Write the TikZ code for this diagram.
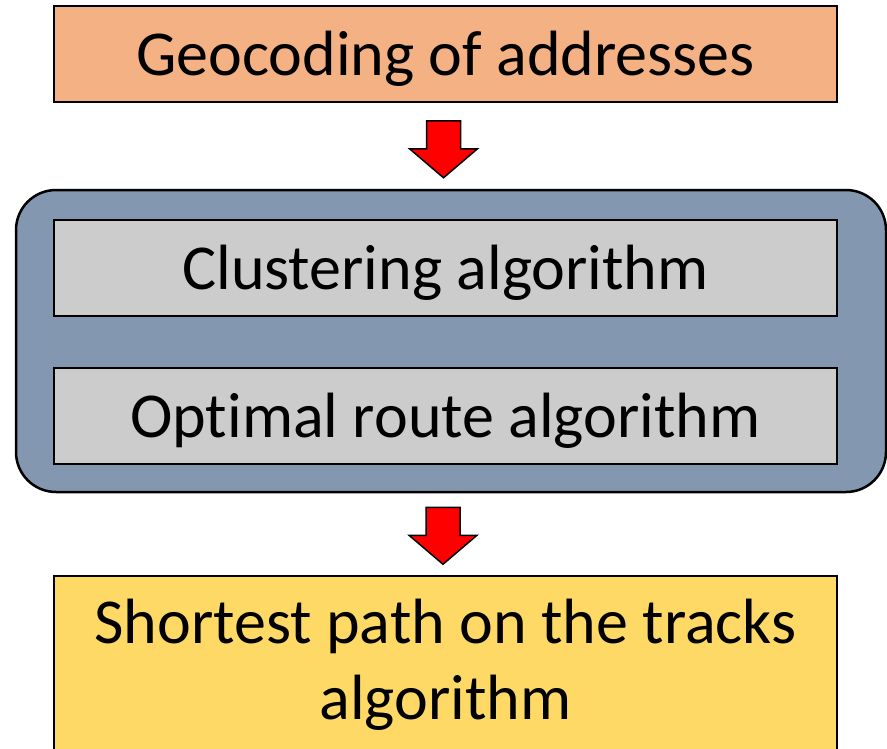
\documentclass[tikz,border=0pt]{standalone}
\usepackage{fontspec}
\setmainfont{Carlito}[Ligatures={NoCommon}]

\definecolor{geocol}{HTML}{F4B183}
\definecolor{groupcol}{HTML}{8497B0}
\definecolor{stepcol}{HTML}{CCCCCC}
\definecolor{pathcol}{HTML}{FFD966}

\tikzset{
  box/.style={draw=black, line width=1.5pt, minimum width=783pt, minimum height=96pt,
    inner sep=0pt, align=center, font=\fontsize{64}{76}\selectfont},
  oneline/.style={text height=52pt, text depth=10pt},
  blockarrow/.style={draw=black, line width=1.5pt, fill=red, line join=miter}
}

\begin{document}
\begin{tikzpicture}[x=1pt,y=-1pt]
            \useasboundingbox (0,0) rectangle (887,748);
            \node[box, oneline, fill=geocol] (geo) at (445.5,54) {Geocoding of addresses};
            \node[draw=black, line width=2.5pt, fill=groupcol, rounded corners=40pt,
                  minimum width=870pt, minimum height=302pt] (group) at (451,341) {};
            \node[box, oneline, fill=stepcol] (clu) at (445.5,268) {Clustering algorithm};
            \node[box, oneline, fill=stepcol] (opt) at (445.5,416) {Optimal route algorithm};
            \node[box, fill=pathcol, minimum height=178pt] (path) at (445.5,665) {Shortest path on the tracks\\algorithm};
            % block arrows between the stages
            \draw[blockarrow] ([shift={(-19,18)}]geo.south) -- ++(34,0) -- ++(0,28) -- ++(17,0)
                -- ++(-34,29) -- ++(-34,-29) -- ++(17,0) -- cycle;
            \draw[blockarrow] ([shift={(-25,14)}]group.south) -- ++(34,0) -- ++(0,28) -- ++(17,0)
                -- ++(-34,29) -- ++(-34,-29) -- ++(17,0) -- cycle;
        \end{tikzpicture}
\end{document}
